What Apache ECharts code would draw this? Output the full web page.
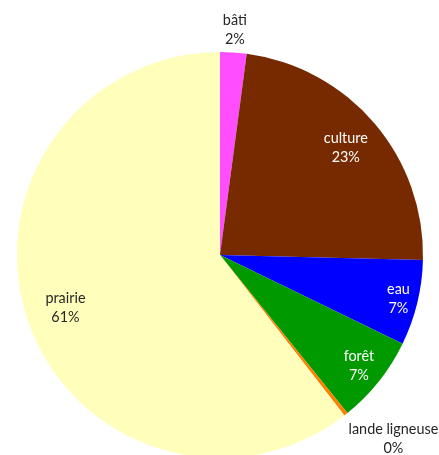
<!DOCTYPE html>
<html>
<head>
<meta charset="utf-8">
<script src="https://cdn.jsdelivr.net/npm/echarts@6/dist/echarts.min.js"></script>
<style>
  html, body { margin: 0; padding: 0; background: #fff; }
  #chart { width: 439px; height: 455px; }
</style>
</head>
<body>
<div id="chart"></div>
<script>
let categories = ['bâti', 'culture', 'eau', 'forêt', 'lande ligneuse', 'prairie'];
let values = [2.1, 23.3, 6.8, 7.0, 0.3, 60.5];
let colors = ['#FF4DFF', '#772A00', '#0000FF', '#009900', '#FF8000', '#FFFFBB'];
let whiteText = ['culture', 'eau', 'forêt'];

// where each label sits, as a fraction of the radius
let labelRing = [1.095, 0.80, 0.89, 0.86, 1.14, 0.79];

let R = 203;
let center = [220, 255];

let font = {
    fontFamily: 'Lato, "Open Sans", sans-serif',
    fontSize: 14.4,
    lineHeight: 19
};

function labelText(p) {
    return p.name + '\n' + Math.round(p.value) + '%';
}

var series = [{
    type: 'pie',
    center: center,
    radius: [0, R],
    startAngle: 90,
    silent: true,
    label: { show: false },
    labelLine: { show: false },
    data: categories.map(function (c, i) {
        return { name: c, value: values[i], itemStyle: { color: colors[i] } };
    })
}];

// one transparent ring per label, its middle at the wanted radius
categories.forEach(function (cat, k) {
    let m = labelRing[k];
    let r2 = (2 * m - 1) * R;
    series.push({
        type: 'pie',
        center: center,
        radius: [Math.min(R, r2), Math.max(R, r2)],
        startAngle: 90,
        silent: true,
        itemStyle: { color: 'rgba(0,0,0,0)' },
        labelLine: { show: false },
        label: Object.assign({
            position: 'inside',
            formatter: labelText,
            padding: cat === 'lande ligneuse' ? [0, 0, 0, 56] : 0
        }, font),
        data: categories.map(function (c, i) {
            return {
                name: c,
                value: values[i],
                label: {
                    show: i === k,
                    color: whiteText.indexOf(c) >= 0 ? '#fff' : '#262626'
                }
            };
        })
    });
});

var myChart = echarts.init(document.getElementById('chart'));
myChart.setOption({ animation: false, series: series }, true);
</script>
</body>
</html>
